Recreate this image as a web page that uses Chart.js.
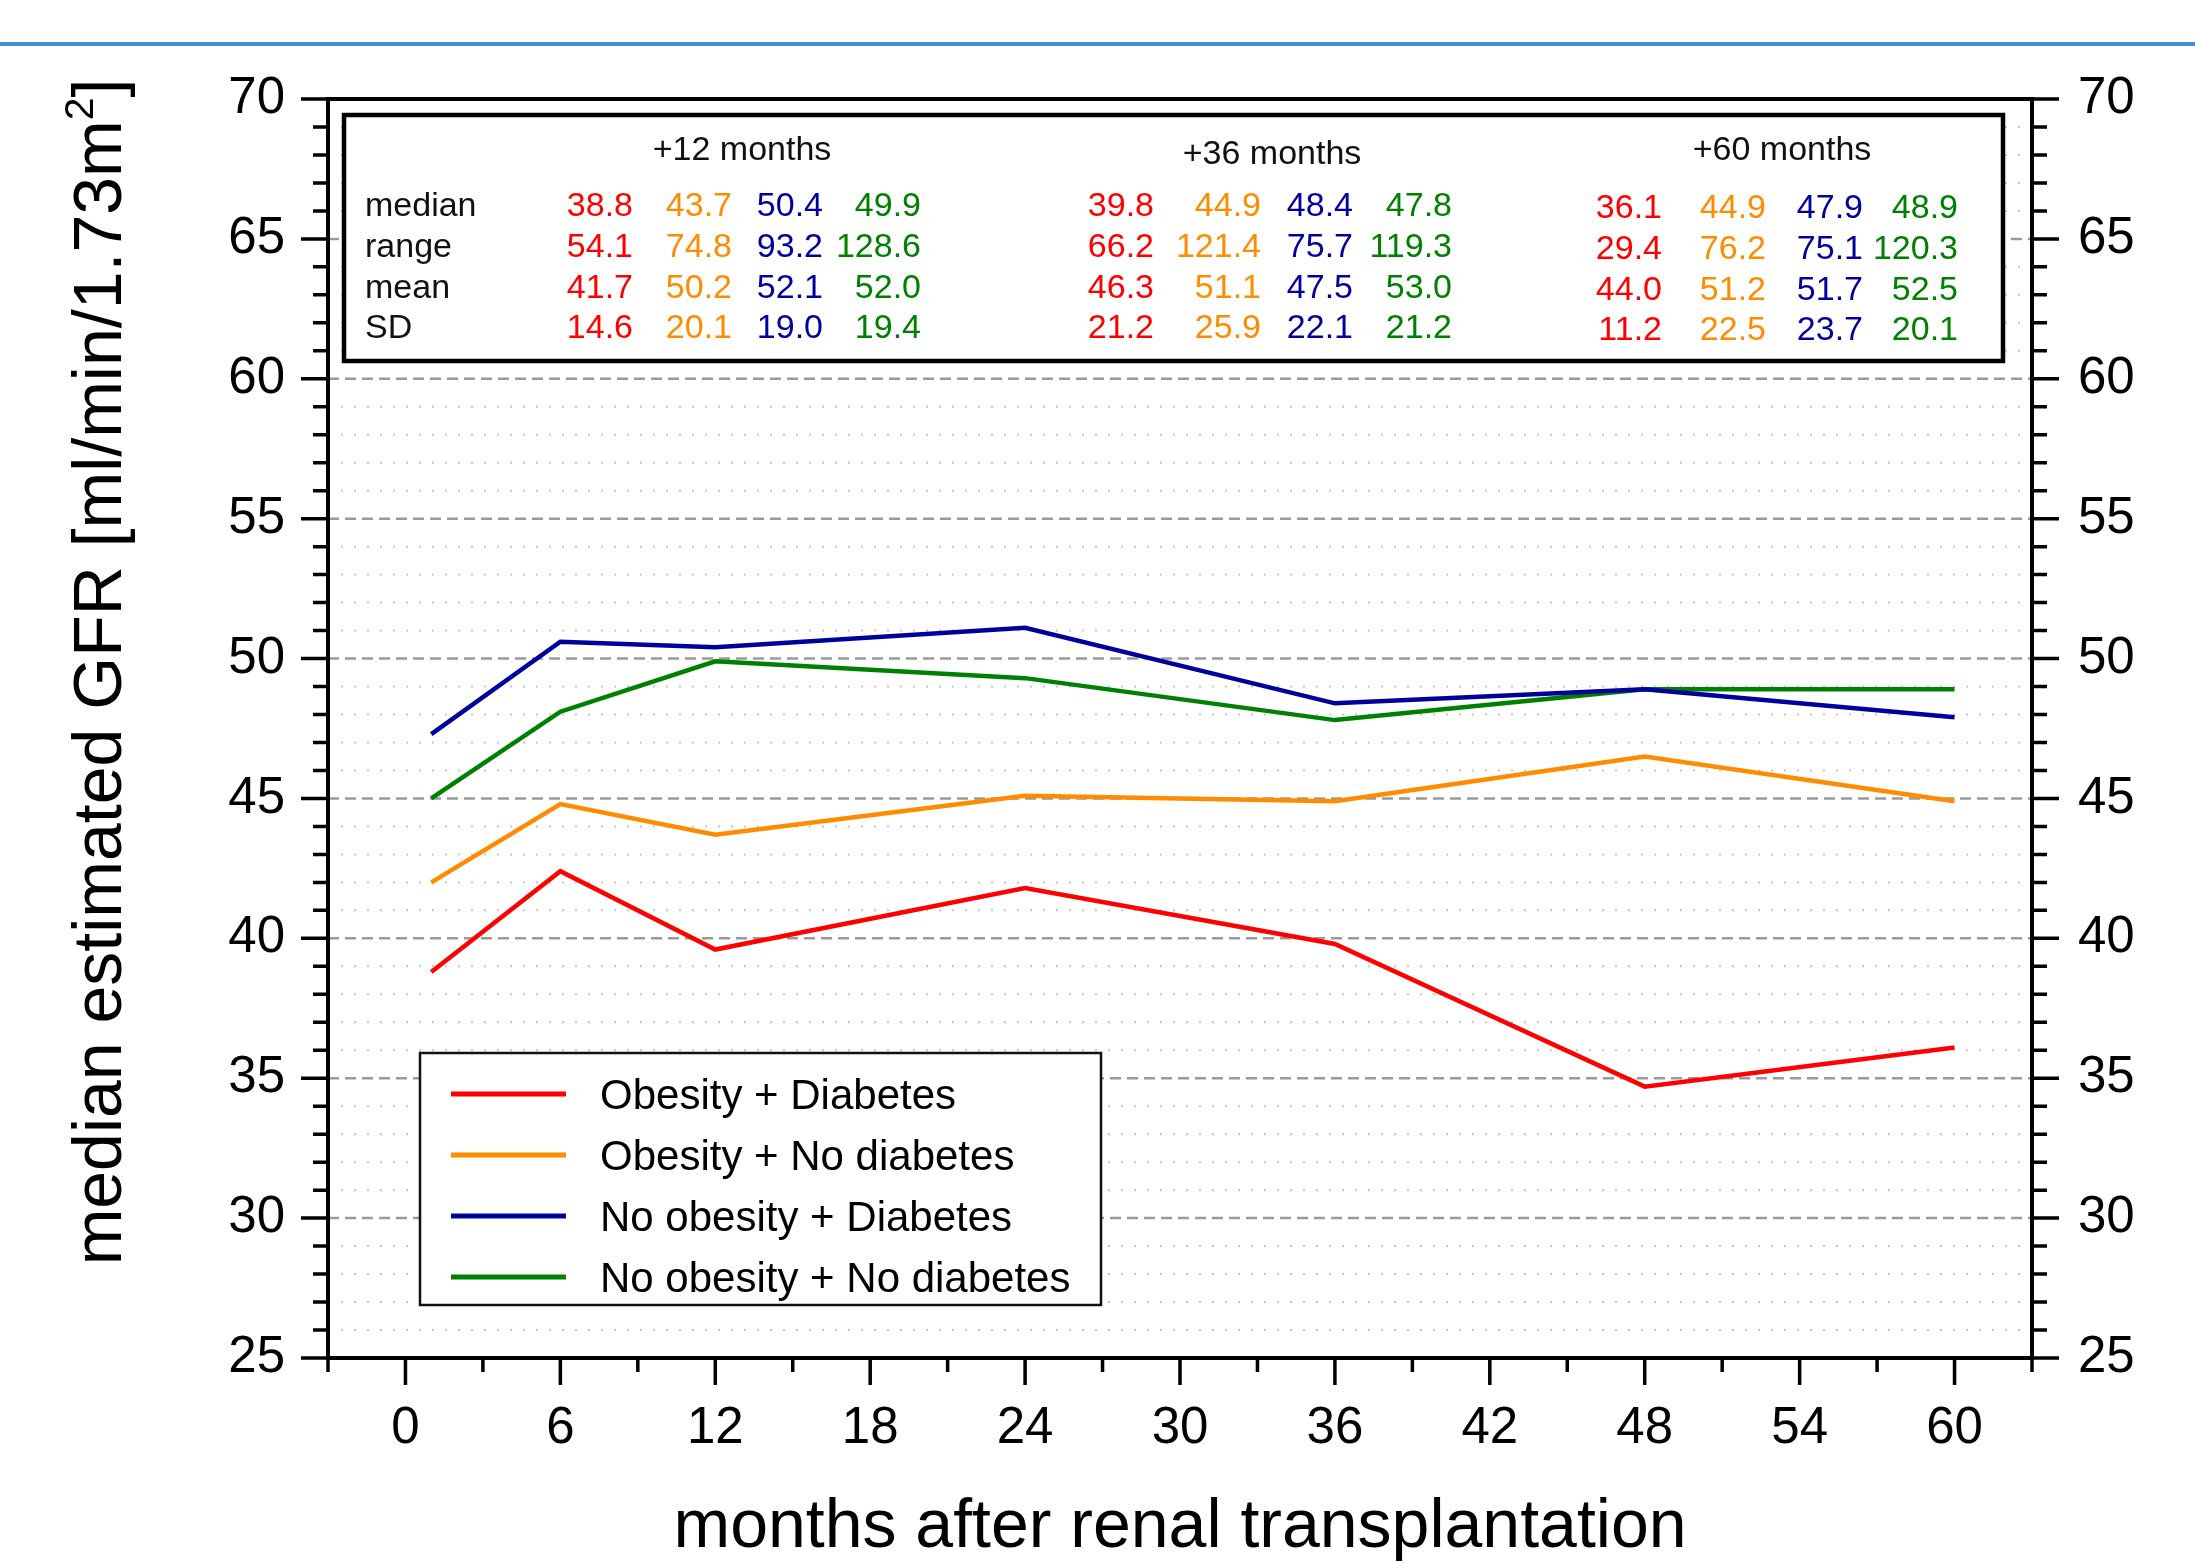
<!DOCTYPE html>
<html>
<head>
<meta charset="utf-8">
<title>median estimated GFR after renal transplantation</title>
<script src="https://cdn.jsdelivr.net/npm/chart.js@4.4.1/dist/chart.umd.min.js"></script>
<style>
  html, body { margin: 0; padding: 0; background: #ffffff; overflow: hidden; }
  canvas { display: block; }
</style>
</head>
<body>
<canvas id="gfr" width="2195" height="1563"></canvas>
<script>
// ---- data ----
const months = [1, 6, 12, 24, 36, 48, 60];
const xTickValues = [0, 6, 12, 18, 24, 30, 36, 42, 48, 54, 60];
const yTickValues = [25, 30, 35, 40, 45, 50, 55, 60, 65, 70];

const seriesNames = ['Obesity + Diabetes', 'Obesity + No diabetes', 'No obesity + Diabetes', 'No obesity + No diabetes'];
const seriesColors = ['#ff0000', '#ff8c00', '#00009c', '#008000'];

const obesityDiabetes     = [38.8, 42.4, 39.6, 41.8, 39.8, 34.7, 36.1];
const obesityNoDiabetes   = [42.0, 44.8, 43.7, 45.1, 44.9, 46.5, 44.9];
const noObesityDiabetes   = [47.3, 50.6, 50.4, 51.1, 48.4, 48.9, 47.9];
const noObesityNoDiabetes = [45.0, 48.1, 49.9, 49.3, 47.8, 48.9, 48.9];

// summary statistics per follow-up time: rows = median, range, mean, SD; columns = groups
const statGroups = ['+12 months', '+36 months', '+60 months'];
const statRows = ['median', 'range', 'mean', 'SD'];
const stats12 = [[38.8, 43.7, 50.4, 49.9], [54.1, 74.8, 93.2, 128.6], [41.7, 50.2, 52.1, 52.0], [14.6, 20.1, 19.0, 19.4]];
const stats36 = [[39.8, 44.9, 48.4, 47.8], [66.2, 121.4, 75.7, 119.3], [46.3, 51.1, 47.5, 53.0], [21.2, 25.9, 22.1, 21.2]];
const stats60 = [[36.1, 44.9, 47.9, 48.9], [29.4, 76.2, 75.1, 120.3], [44.0, 51.2, 51.7, 52.5], [11.2, 22.5, 23.7, 20.1]];

const xTitle = 'months after renal transplantation';
const yTitleParts = ['median estimated GFR [ml/min/1.73m', '2', ']'];

// ---- drawing helpers ----
const FONT = '"Liberation Sans", Arial, Helvetica, sans-serif';
const seriesValues = [obesityDiabetes, obesityNoDiabetes, noObesityDiabetes, noObesityNoDiabetes];
const statTables = [stats12, stats36, stats60];

function drawGrid(chart) {
  const { ctx, chartArea: a, scales: { y } } = chart;
  ctx.save();
  ctx.lineCap = 'butt';
  for (let v = y.min + 1; v < y.max; v++) {
    const py = y.getPixelForValue(v);
    if (v % 5 === 0) {
      ctx.strokeStyle = '#9a9a9a'; ctx.lineWidth = 2.5; ctx.setLineDash([11, 6]);
    } else {
      ctx.strokeStyle = '#c6c6c6'; ctx.lineWidth = 2; ctx.setLineDash([2, 11]);
    }
    ctx.beginPath();
    ctx.moveTo(a.left, py);
    ctx.lineTo(a.right, py);
    ctx.stroke();
  }
  ctx.restore();
}

function drawStatsTable(chart) {
  const { ctx, chartArea: a } = chart;
  const box = { l: a.left + 16, r: a.right - 29, t: a.top + 16, b: a.top + 262 };
  ctx.save();
  ctx.fillStyle = '#ffffff';
  ctx.fillRect(box.l, box.t, box.r - box.l, box.b - box.t);
  ctx.strokeStyle = '#000000';
  ctx.lineWidth = 4.5;
  ctx.strokeRect(box.l, box.t, box.r - box.l, box.b - box.t);

  ctx.font = `34px ${FONT}`;
  ctx.textBaseline = 'middle';
  const rowY = [207, 248, 289, 329];
  const headerX = [742, 1272, 1782];
  const headerY = [151, 155, 151];
  const groupShift = [0, 0, 2];
  const colRight = [[633, 732, 823, 921], [1154, 1261, 1353, 1452], [1662, 1766, 1863, 1958]];

  ctx.fillStyle = '#111111';
  ctx.textAlign = 'left';
  statRows.forEach((r, i) => ctx.fillText(r, a.left + 37, rowY[i]));

  statGroups.forEach((g, gi) => {
    ctx.fillStyle = '#111111';
    ctx.textAlign = 'center';
    ctx.fillText(g, headerX[gi], headerY[gi]);
    ctx.textAlign = 'right';
    statTables[gi].forEach((row, ri) => {
      row.forEach((val, ci) => {
        ctx.fillStyle = seriesColors[ci];
        ctx.fillText(val.toFixed(1), colRight[gi][ci], rowY[ri] + groupShift[gi]);
      });
    });
  });
  ctx.restore();
}

function drawLegendBox(chart) {
  const { ctx, chartArea: a } = chart;
  const box = { l: a.left + 92, r: a.left + 773, t: a.top + 954, b: a.top + 1206 };
  ctx.save();
  ctx.fillStyle = '#ffffff';
  ctx.fillRect(box.l, box.t, box.r - box.l, box.b - box.t);
  ctx.strokeStyle = '#111111';
  ctx.lineWidth = 2.5;
  ctx.strokeRect(box.l, box.t, box.r - box.l, box.b - box.t);
  ctx.font = `42px ${FONT}`;
  ctx.textBaseline = 'middle';
  ctx.textAlign = 'left';
  const rowStep = 61;
  chart.data.datasets.forEach((ds, i) => {
    const cy = box.t + 41 + i * rowStep;
    ctx.strokeStyle = ds.borderColor;
    ctx.lineWidth = 5;
    ctx.beginPath();
    ctx.moveTo(box.l + 31, cy);
    ctx.lineTo(box.l + 146, cy);
    ctx.stroke();
    ctx.fillStyle = '#000000';
    ctx.fillText(ds.label, box.l + 180, cy + 3);
  });
  ctx.restore();
}

function drawAxes(chart) {
  const { ctx, chartArea: a, scales: { x, y } } = chart;
  ctx.save();
  ctx.strokeStyle = '#000000';
  ctx.lineCap = 'butt';
  // frame
  ctx.lineWidth = 4;
  ctx.beginPath();
  ctx.moveTo(a.left - 2, a.top); ctx.lineTo(a.right + 2, a.top);
  ctx.moveTo(a.left - 2, a.bottom); ctx.lineTo(a.right + 2, a.bottom);
  ctx.moveTo(a.left, a.top); ctx.lineTo(a.left, a.bottom);
  ctx.moveTo(a.right, a.top); ctx.lineTo(a.right, a.bottom);
  ctx.stroke();
  // y ticks, left and right, pointing outwards
  ctx.lineWidth = 3.5;
  ctx.beginPath();
  for (let v = y.min; v <= y.max; v++) {
    const py = y.getPixelForValue(v);
    const len = v % 5 === 0 ? 27 : 15;
    ctx.moveTo(a.left, py); ctx.lineTo(a.left - len, py);
    ctx.moveTo(a.right, py); ctx.lineTo(a.right + len, py);
  }
  // x ticks every 3 months, longer on labelled ones
  for (let m = x.min; m <= x.max; m += 3) {
    const px = x.getPixelForValue(m);
    const major = m % 6 === 0 && xTickValues.includes(m);
    const len = major ? 27 : 14;
    ctx.moveTo(px, a.bottom); ctx.lineTo(px, a.bottom + len);
  }
  ctx.stroke();

  // axis titles
  ctx.fillStyle = '#000000';
  ctx.font = `68px ${FONT}`;
  ctx.textAlign = 'center';
  ctx.textBaseline = 'alphabetic';
  ctx.fillText(xTitle, (a.left + a.right) / 2, 1547);

  ctx.translate(121, 672);
  ctx.rotate(-Math.PI / 2);
  ctx.textAlign = 'left';
  ctx.font = `68px ${FONT}`;
  const w1 = ctx.measureText(yTitleParts[0]).width;
  const w3 = ctx.measureText(yTitleParts[2]).width;
  ctx.font = `41px ${FONT}`;
  const w2 = ctx.measureText(yTitleParts[1]).width;
  let tx = -(w1 + w2 + w3) / 2;
  ctx.font = `68px ${FONT}`;
  ctx.fillText(yTitleParts[0], tx, 0); tx += w1;
  ctx.font = `41px ${FONT}`;
  ctx.fillText(yTitleParts[1], tx, -28); tx += w2;
  ctx.font = `68px ${FONT}`;
  ctx.fillText(yTitleParts[2], tx, 0);
  ctx.restore();
}

const decorPlugin = {
  id: 'decor',
  beforeDraw(chart) {
    const { ctx, width, height } = chart;
    ctx.save();
    ctx.fillStyle = '#ffffff';
    ctx.fillRect(0, 0, width, height);
    ctx.fillStyle = '#4a8bd6';
    ctx.fillRect(0, 42, width, 4);
    ctx.restore();
  },
  beforeDatasetsDraw(chart) {
    drawGrid(chart);
    drawStatsTable(chart);
    drawLegendBox(chart);
  },
  afterDraw(chart) {
    drawAxes(chart);
  }
};

const tickFont = { family: FONT, size: 51 };
const yScaleBase = {
  type: 'linear',
  min: 25,
  max: 70,
  grid: { display: false, drawTicks: false },
  border: { display: false },
  afterBuildTicks: s => { s.ticks = yTickValues.map(v => ({ value: v })); }
};

new Chart(document.getElementById('gfr'), {
  type: 'line',
  data: {
    datasets: seriesNames.map((name, i) => ({
      label: name,
      data: months.map((m, j) => ({ x: m, y: seriesValues[i][j] })),
      borderColor: seriesColors[i],
      backgroundColor: seriesColors[i],
      borderWidth: 4.5,
      pointRadius: 0,
      tension: 0,
      fill: false
    }))
  },
  options: {
    responsive: false,
    animation: false,
    devicePixelRatio: 1,
    layout: { padding: { top: 99, left: 0, right: 0, bottom: 0 } },
    plugins: { legend: { display: false }, tooltip: { enabled: false } },
    scales: {
      x: {
        type: 'linear',
        min: -3,
        max: 63,
        grid: { display: false, drawTicks: false },
        border: { display: false },
        ticks: { font: tickFont, color: '#000000', padding: 40, maxRotation: 0, autoSkip: false },
        afterBuildTicks: s => { s.ticks = xTickValues.map(v => ({ value: v })); },
        afterFit: s => { s.height = 205; }
      },
      y: Object.assign({}, yScaleBase, {
        position: 'left',
        ticks: { font: tickFont, color: '#000000', padding: 43 },
        afterFit: s => { s.width = 328; }
      }),
      y2: Object.assign({}, yScaleBase, {
        position: 'right',
        ticks: { font: tickFont, color: '#000000', padding: 46 },
        afterFit: s => { s.width = 163; }
      })
    }
  },
  plugins: [decorPlugin]
});
</script>
</body>
</html>
